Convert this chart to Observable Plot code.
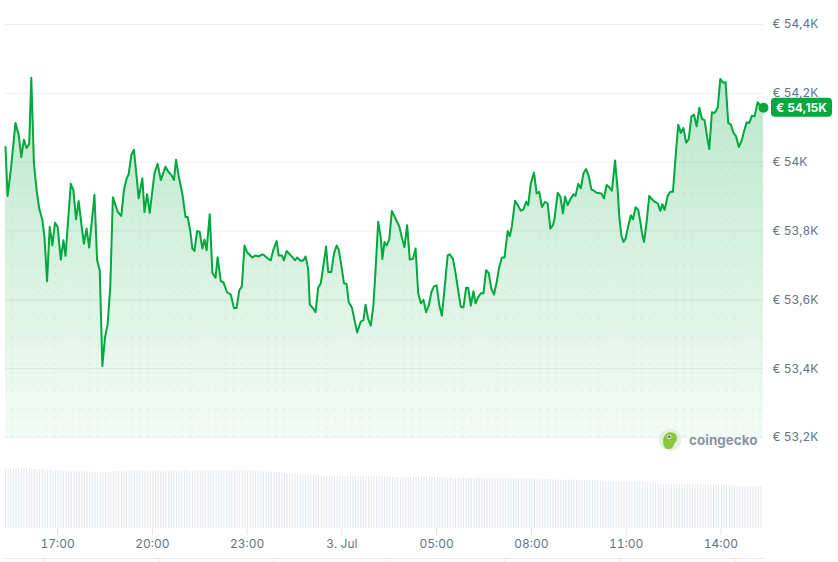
<!DOCTYPE html>
<html>
<head>
<meta charset="utf-8">
<script src="https://cdn.jsdelivr.net/npm/d3@7"></script>
<script src="https://cdn.jsdelivr.net/npm/@observablehq/plot@0.6"></script>
<style>
html, body { margin: 0; padding: 0; background: #ffffff; }
#wrap { position: relative; width: 838px; height: 562px; overflow: hidden; font-family: Inter, "Noto Sans", sans-serif; }
#wrap > svg, #wrap > div { position: absolute; left: 0; }
</style>
</head>
<body>
<div id="wrap"></div>
<script>
// ---------- DATA ----------
// 24h BTC/EUR window, 2 Jul 15:21 -> 3 Jul 15:21 (times are minutes after the start)
const startTime = Date.UTC(2024, 6, 2, 15, 21);
const windowMinutes = 1440;

const minutes = [
  0,4,10,19,25,30,35,40,45,49,
  54,59,64,70,74,79,84,89,94,99,
  105,110,114,124,129,134,139,144,149,154,
  159,169,174,179,184,189,194,199,204,209,
  213,220,225,230,234,239,244,249,253,260,
  264,269,274,283,289,295,304,309,315,320,
  324,329,336,342,346,351,355,359,364,369,
  374,378,382,388,393,399,403,409,414,421,
  428,434,439,444,449,454,459,469,475,481,
  488,492,499,504,509,515,519,525,529,534,
  539,545,550,554,561,566,570,575,578,585,
  589,594,599,604,609,613,619,624,629,633,
  638,643,648,652,658,662,668,675,680,684,
  689,694,699,703,708,713,716,720,724,729,
  734,738,743,748,753,758,763,768,774,779,
  784,789,794,799,804,809,814,819,824,829,
  834,840,844,850,855,860,865,870,875,879,
  884,889,893,898,903,908,913,918,923,928,
  933,938,943,948,954,958,962,968,974,979,
  984,989,993,998,1004,1009,1014,1019,1025,1030,
  1035,1040,1043,1049,1054,1059,1063,1068,1073,1079,
  1083,1088,1093,1098,1103,1108,1113,1118,1123,1132,
  1137,1142,1147,1152,1158,1163,1166,1170,1174,1178,
  1183,1188,1192,1197,1202,1206,1209,1213,1218,1223,
  1228,1233,1239,1244,1248,1252,1258,1263,1268,1273,
  1278,1283,1288,1293,1298,1303,1308,1313,1318,1323,
  1328,1334,1337,1342,1347,1353,1358,1363,1368,1373,
  1378,1383,1388,1393,1398,1403,1408,1413,1418,1423,
  1429,1434,1440
];

const prices = [
  54044,53902,53977,54114,54080,54015,54065,54041,54053,54245,
  53997,53919,53866,53832,53783,53654,53812,53758,53824,53812,
  53717,53773,53728,53937,53919,53834,53887,53822,53763,53807,
  53752,53905,53715,53686,53408,53491,53528,53637,53898,53875,
  53856,53844,53919,53952,53965,54021,54036,53958,53895,53953,
  53855,53907,53853,53968,53995,53948,53987,53973,53963,53948,
  54007,53960,53907,53841,53841,53800,53749,53742,53800,53797,
  53749,53775,53744,53849,53678,53664,53724,53654,53651,53622,
  53615,53576,53576,53627,53639,53758,53738,53723,53729,53726,
  53732,53729,53719,53715,53746,53771,53729,53729,53715,53742,
  53734,53724,53715,53723,53713,53715,53726,53690,53586,53574,
  53564,53635,53648,53700,53755,53681,53681,53734,53758,53746,
  53700,53648,53646,53593,53578,53549,53505,53537,53541,53586,
  53544,53525,53586,53686,53827,53781,53719,53768,53758,53775,
  53858,53846,53829,53814,53781,53753,53817,53717,53719,53749,
  53619,53590,53600,53564,53583,53622,53639,53642,53586,53554,
  53632,53729,53732,53719,53678,53627,53580,53578,53635,53635,
  53583,53625,53590,53608,53619,53619,53686,53678,53632,53615,
  53651,53695,53723,53723,53800,53785,53814,53888,53873,53859,
  53863,53885,53875,53939,53970,53909,53914,53870,53885,53880,
  53807,53817,53836,53911,53900,53851,53900,53875,53892,53907,
  53902,53937,53924,53968,53980,53960,53921,53917,53911,53909,
  53895,53934,53927,53917,54005,53919,53841,53787,53768,53778,
  53814,53846,53834,53869,53861,53827,53795,53768,53827,53902,
  53892,53885,53880,53859,53878,53861,53902,53914,53914,54015,
  54109,54085,54099,54057,54067,54133,54138,54104,54158,54126,
  54122,54063,54038,54145,54143,54158,54242,54231,54232,54114,
  54109,54085,54075,54044,54060,54089,54116,54114,54135,54133,
  54174,54164,54158
];

// rolling 24h volume (€ bn), one bar every 5 minutes
const volumeStepMinutes = 5;
const volumes = [
  29.5,29.6,29.6,29.8,30.0,30.0,30.1,30.0,29.9,29.8,29.8,29.6,29.5,29.4,
  29.3,29.2,29.2,29.1,28.9,28.9,
  28.8,28.7,28.7,28.7,28.6,28.7,28.7,28.6,28.6,28.5,
  28.4,28.3,28.3,28.2,28.1,27.9,27.8,27.8,27.9,28.1,
  28.3,28.4,28.5,28.5,28.6,28.6,28.7,28.7,28.7,
  28.7,28.8,28.7,28.7,28.6,28.7,28.7,28.8,28.7,28.6,
  28.6,28.7,28.7,28.7,28.8,28.7,28.7,28.6,28.7,28.7,
  28.7,28.6,28.6,28.7,28.8,28.8,28.7,28.7,28.7,28.8,
  28.8,28.8,28.7,28.7,28.8,28.8,28.9,28.8,
  28.9,28.9,28.8,28.9,28.9,28.9,28.8,28.8,28.7,
  28.5,28.4,28.3,28.3,28.3,28.2,
  28.1,28.1,28.0,27.9,27.6,
  27.3,27.1,27.0,27.0,26.9,
  26.8,26.8,26.7,26.7,26.7,26.7,26.6,26.5,
  26.4,26.3,26.3,26.2,26.2,26.2,26.3,26.2,26.2,26.1,26.1,26.2,26.1,26.0,26.0,
  25.9,25.9,25.8,25.8,25.8,25.8,25.9,25.8,25.8,25.7,25.7,25.6,25.6,25.5,25.4,
  25.3,25.3,25.3,25.4,25.5,25.6,25.6,25.7,
  25.7,25.7,25.6,25.6,25.6,25.5,25.5,25.5,25.4,25.3,
  25.1,25.1,25.0,25.0,25.0,25.1,25.0,25.0,25.0,25.0,
  25.0,25.1,25.1,25.0,25.0,24.9,24.9,25.0,25.0,25.0,
  25.1,25.0,24.9,24.9,24.9,24.9,24.8,24.8,24.8,24.8,
  24.7,24.7,24.7,24.8,24.7,24.6,24.6,24.5,24.5,24.4,
  24.3,24.3,24.2,24.2,24.2,24.2,24.3,24.2,24.2,24.1,24.1,24.2,24.1,24.0,24.0,23.9,
  23.8,23.8,23.7,23.7,23.7,23.7,23.7,23.8,23.7,23.7,23.7,23.6,23.7,23.7,23.6,23.5,23.4,23.3,
  23.1,23.0,22.9,22.8,22.6,22.4,
  22.2,22.2,22.2,22.2,22.3,22.2,22.2,22.2,22.2,22.1,22.2,22.2,22.1,22.0,22.0,21.9,
  21.8,21.7,21.7,21.7,21.7,21.8,21.7,21.7,21.7,21.6,21.6,21.5,21.3,21.1,
  20.9,20.8,20.8,20.8,20.8,20.9,20.8,20.8,20.8,20.8
];

const priceTicks = [53200, 53400, 53600, 53800, 54000, 54200, 54400];
const timeTicks = ["2024-07-02T17:00Z","2024-07-02T20:00Z","2024-07-02T23:00Z","2024-07-03T02:00Z",
                   "2024-07-03T05:00Z","2024-07-03T08:00Z","2024-07-03T11:00Z","2024-07-03T14:00Z"];
const timeTickLabels = ["17:00","20:00","23:00","3. Jul","05:00","08:00","11:00","14:00"];
const navTicks = [1, 2, 3, 4, 5, 6, 7];

// ---------- CHART ----------
const W = 838, ML = 5, MR = 75;
const GREEN = "#00a83e";
const TEXT = "#647381";
const xDomain = [new Date(startTime), new Date(startTime + windowMinutes * 60000)];
const priceData = prices.map((p, i) => ({t: new Date(startTime + minutes[i] * 60000), p}));
const volData = volumes.map((v, i) => ({t: new Date(startTime + i * volumeStepMinutes * 60000), v}));
const yBase = priceTicks[0];
const fmtK = d => "€ " + String(+(d / 1000).toFixed(1)).replace(".", ",") + "K";
const wrap = document.getElementById("wrap");
const baseStyle = {fontFamily: "Inter, 'Noto Sans', sans-serif", fontSize: "12px", background: "transparent", overflow: "visible"};

const pricePlot = Plot.plot({
  width: W, height: 450,
  marginLeft: ML, marginRight: MR, marginTop: 24, marginBottom: 13,
  x: {type: "utc", domain: xDomain},
  y: {domain: [priceTicks[0], priceTicks[priceTicks.length - 1]], label: null},
  style: baseStyle,
  marks: [
    Plot.gridY(priceTicks, {stroke: "#edf0f3", strokeOpacity: 1, strokeWidth: 1}),
    Plot.areaY(priceData, {x: "t", y1: yBase, y2: "p", fill: "url(#priceGrad)"}),
    Plot.areaY(priceData, {x: "t", y1: yBase, y2: "p", fill: "url(#priceDots)"}),
    Plot.lineY(priceData, {x: "t", y: "p", stroke: GREEN, strokeWidth: 2, strokeLinejoin: "round"}),
    Plot.dot([priceData[priceData.length - 1]], {x: "t", y: "p", r: 5, fill: GREEN}),
    Plot.axisY(priceTicks, {anchor: "right", tickSize: 0, tickPadding: 9, tickFormat: fmtK, fill: TEXT, label: null}),
    Plot.axisX({ticks: [], label: null, tickSize: 0})
  ]
});
pricePlot.style.top = "0px";
wrap.appendChild(pricePlot);

// gradient + dot pattern defs, positioned through the y scale
{
  const ys = pricePlot.scale("y");
  const svg = d3.select(pricePlot);
  const defs = svg.insert("defs", ":first-child");
  const g = defs.append("linearGradient").attr("id", "priceGrad")
    .attr("gradientUnits", "userSpaceOnUse")
    .attr("x1", 0).attr("x2", 0)
    .attr("y1", ys.apply(priceTicks[priceTicks.length - 1])).attr("y2", ys.apply(yBase));
  g.append("stop").attr("offset", "0%").attr("stop-color", GREEN).attr("stop-opacity", 0.3);
  g.append("stop").attr("offset", "100%").attr("stop-color", GREEN).attr("stop-opacity", 0.045);
  const pat = defs.append("pattern").attr("id", "priceDots")
    .attr("patternUnits", "userSpaceOnUse").attr("width", 8.5).attr("height", 9);
  pat.append("circle").attr("cx", 4).attr("cy", 4).attr("r", 0.9)
    .attr("fill", GREEN).attr("fill-opacity", 0.09);

  // current price badge
  const last = priceData[priceData.length - 1];
  const by = ys.apply(last.p);
  const bx = W - MR + 8;
  const label = "€ " + (Math.floor(last.p / 10) / 100).toFixed(2).replace(".", ",") + "K";
  const badge = svg.append("g");
  badge.append("rect").attr("x", bx).attr("y", by - 9.5).attr("width", 61).attr("height", 19)
    .attr("rx", 4).attr("fill", GREEN);
  badge.append("text").attr("x", bx + 30.5).attr("y", by).attr("dy", "0.36em")
    .attr("text-anchor", "middle").attr("fill", "#ffffff")
    .attr("font-weight", 700).attr("font-size", 12).text(label);
}

// volume + time axis
const tickDates = timeTicks.map(s => new Date(s));
const tickLabelMap = new Map(tickDates.map((d, i) => [+d, timeTickLabels[i]]));
const volPlot = Plot.plot({
  width: W, height: 92,
  marginLeft: ML, marginRight: MR, marginTop: 0, marginBottom: 24,
  x: {type: "utc", domain: xDomain},
  y: {domain: [0, 34], label: null},
  style: baseStyle,
  marks: [
    Plot.ruleX(volData, {x: "t", y1: 0, y2: "v", stroke: "#e3e7eb", strokeWidth: 1}),
    Plot.axisX(tickDates, {tickSize: 7, tickPadding: 4, stroke: "#dde2e7", fill: TEXT,
      tickFormat: d => tickLabelMap.get(+d), label: null}),
    Plot.axisY({ticks: [], label: null, tickSize: 0})
  ]
});
volPlot.style.top = "460px";
wrap.appendChild(volPlot);

// navigator strip (cut off at the bottom edge)
const navPlot = Plot.plot({
  width: W, height: 9,
  marginLeft: ML, marginRight: 74, marginTop: 5, marginBottom: 0,
  x: {domain: [0.67, 7.25], axis: null},
  y: {domain: [0, 1], axis: null},
  style: baseStyle,
  marks: [
    Plot.ruleY([1], {stroke: "#e6e9ed"}),
    Plot.tickX(navTicks, {x: d => d, stroke: "#e3e7eb"})
  ]
});
navPlot.style.top = "553px";
wrap.appendChild(navPlot);

// coingecko watermark
const logo = document.createElement("div");
logo.style.top = "0px";
logo.innerHTML = `<svg width="838" height="562" style="position:absolute;left:0;top:0">
  <circle cx="670" cy="440" r="11" fill="#e3f0da"/>
  <path d="M663.5,444.5 C662,438 665,432.5 670.5,432.3 C675,432.2 677.5,435.5 677,439 C676.5,442 674,443 673.5,445.5 C673,448 670,449.5 667,448.8 C665,448.3 664,446.5 663.5,444.5 Z" fill="#8cc540"/>
  <circle cx="669.3" cy="436.8" r="2.1" fill="#ffffff"/>
  <circle cx="669.3" cy="436.8" r="1.2" fill="#4b4f54"/>
  <text x="689" y="444.5" font-family="Inter, 'Noto Sans', sans-serif" font-weight="700" font-size="13.5" fill="#8a949e">coingecko</text>
</svg>`;
wrap.appendChild(logo);
</script>
</body>
</html>
